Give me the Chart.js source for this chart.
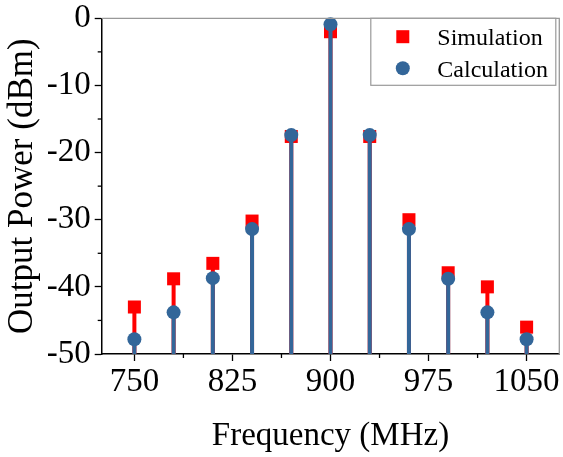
<!DOCTYPE html>
<html>
<head>
<meta charset="utf-8">
<script src="https://cdn.jsdelivr.net/npm/chart.js@4/dist/chart.umd.min.js"></script>
<style>
  html, body { margin: 0; padding: 0; background: #fff; }
  #wrap { width: 563px; height: 457px; }
</style>
</head>
<body>
<div id="wrap"><canvas id="graphic"></canvas></div>
<script>
const frequencies = [750, 780, 810, 840, 870, 900, 930, 960, 990, 1020, 1050]
const simulation = [-43.0, -38.8, -36.5, -30.2, -17.6, -2.0, -17.6, -30.0, -37.9, -40.0, -46.0]
const calculation = [-47.8, -43.8, -38.7, -31.4, -17.4, -0.9, -17.4, -31.4, -38.8, -43.8, -47.8]
const xTickValues = [750, 825, 900, 975, 1050]
const yTickValues = [0, -10, -20, -30, -40, -50]

const serif = '"Liberation Serif", "Times New Roman", serif'
const blue = '#336699'
const red = '#ff0000'

const toPoints = (values) => frequencies.map((f, i) => ({ x: f, y: values[i] }))

// keep the plot box where the reference has it, no room made for overflowing labels
const noScalePadding = (scale) => {
  scale.paddingTop = 0
  scale.paddingBottom = 0
  scale.paddingLeft = 0
  scale.paddingRight = 0
}

// vertical drop lines from each marker to the bottom axis
const stemPlugin = {
  id: 'stems',
  beforeDatasetDraw: (chart, args) => {
    const ctx = chart.ctx
    const ds = chart.data.datasets[args.index]
    const bottom = chart.chartArea.bottom
    ctx.save()
    ctx.strokeStyle = ds.backgroundColor
    ctx.lineWidth = 4
    args.meta.data.forEach(pt => {
      ctx.beginPath()
      ctx.moveTo(pt.x, pt.y)
      ctx.lineTo(pt.x, bottom)
      ctx.stroke()
    })
    ctx.restore()
  }
}

// minor ticks, top/right frame and the boxed legend
const framePlugin = {
  id: 'frame',
  afterDraw: (chart) => {
    const ctx = chart.ctx
    const area = chart.chartArea
    const xs = chart.scales.x
    const ys = chart.scales.y
    ctx.save()
    ctx.strokeStyle = '#999'
    ctx.lineWidth = 1.3
    ctx.beginPath()
    ctx.moveTo(area.left, area.top)
    ctx.lineTo(area.right, area.top)
    ctx.lineTo(area.right, area.bottom)
    ctx.stroke()

    ctx.strokeStyle = '#000'
    ctx.lineWidth = 1.3
    for (let i = 0; i < xTickValues.length - 1; i++) {
      const px = xs.getPixelForValue((xTickValues[i] + xTickValues[i + 1]) / 2)
      ctx.beginPath()
      ctx.moveTo(px, area.bottom)
      ctx.lineTo(px, area.bottom + 4)
      ctx.stroke()
    }
    for (let i = 0; i < yTickValues.length - 1; i++) {
      const py = ys.getPixelForValue((yTickValues[i] + yTickValues[i + 1]) / 2)
      ctx.beginPath()
      ctx.moveTo(area.left, py)
      ctx.lineTo(area.left - 4, py)
      ctx.stroke()
    }

    // legend
    const boxRight = area.right - 3.5
    const boxLeft = boxRight - 185
    const boxTop = area.top
    ctx.fillStyle = '#fff'
    ctx.fillRect(boxLeft, boxTop, boxRight - boxLeft, 67)
    ctx.strokeStyle = '#999'
    ctx.lineWidth = 1.2
    ctx.strokeRect(boxLeft, boxTop, boxRight - boxLeft, 67)
    ctx.font = '24px ' + serif
    ctx.textBaseline = 'alphabetic'
    chart.data.datasets.forEach((ds, i) => {
      const cy = boxTop + 18.4 + i * 31.6
      const cx = boxLeft + 32
      ctx.fillStyle = ds.backgroundColor
      if (ds.pointStyle === 'rect') {
        ctx.fillRect(cx - 6.5, cy - 6.5, 13, 13)
      } else {
        ctx.beginPath()
        ctx.arc(cx, cy, 7, 0, Math.PI * 2)
        ctx.fill()
      }
      ctx.fillStyle = '#000'
      ctx.fillText(ds.label, boxLeft + 66.5, cy + 8.3)
    })
    ctx.restore()
  }
}

const renderChart = () => {
  const ctx = document.querySelector('#graphic').getContext('2d')
  new Chart(ctx, {
    type: 'scatter',
    data: {
      datasets: [{
        label: 'Simulation',
        data: toPoints(simulation),
        pointStyle: 'rect',
        pointRadius: 9.2,
        backgroundColor: red,
        borderColor: red,
        pointBorderWidth: 0,
        order: 2
      }, {
        label: 'Calculation',
        data: toPoints(calculation),
        pointStyle: 'circle',
        pointRadius: 7,
        backgroundColor: blue,
        borderColor: blue,
        pointBorderWidth: 0,
        order: 1
      }]
    },
    options: {
      responsive: true,
      maintainAspectRatio: false,
      animation: false,
      clip: false,
      layout: { padding: { top: 18.3, right: 3.7, left: 0, bottom: 0 }, autoPadding: false },
      plugins: {
        legend: { display: false },
        tooltip: { enabled: false }
      },
      scales: {
        x: {
          type: 'linear',
          min: 725,
          max: 1075,
          afterBuildTicks: (scale) => { scale.ticks = xTickValues.map(v => ({ value: v })) },
          afterFit: (scale) => { scale.height = 103; noScalePadding(scale) },
          border: { color: '#000', width: 1.5 },
          grid: { drawOnChartArea: false, tickLength: 7, tickColor: '#000', tickWidth: 1.3 },
          ticks: { color: '#000', padding: 2, maxRotation: 0, autoSkip: false, callback: (v) => String(v), font: { family: serif, size: 33 } },
          title: { display: true, text: 'Frequency (MHz)', color: '#000', font: { family: serif, size: 33 }, padding: { top: 0, bottom: 1 } }
        },
        y: {
          min: -50,
          max: 0,
          afterBuildTicks: (scale) => { scale.ticks = yTickValues.map(v => ({ value: v })) },
          afterFit: (scale) => { scale.width = 101.7; noScalePadding(scale) },
          border: { color: '#000', width: 1.5 },
          grid: { drawOnChartArea: false, tickLength: 7, tickColor: '#000', tickWidth: 1.3 },
          ticks: { color: '#000', padding: 4, callback: (v) => String(v), font: { family: serif, size: 33 } },
          title: { display: true, text: 'Output Power (dBm)', color: '#000', font: { family: serif, size: 35 }, padding: { top: 2, bottom: 0 } }
        }
      }
    },
    plugins: [stemPlugin, framePlugin]
  })
}

renderChart()
</script>
</body>
</html>
